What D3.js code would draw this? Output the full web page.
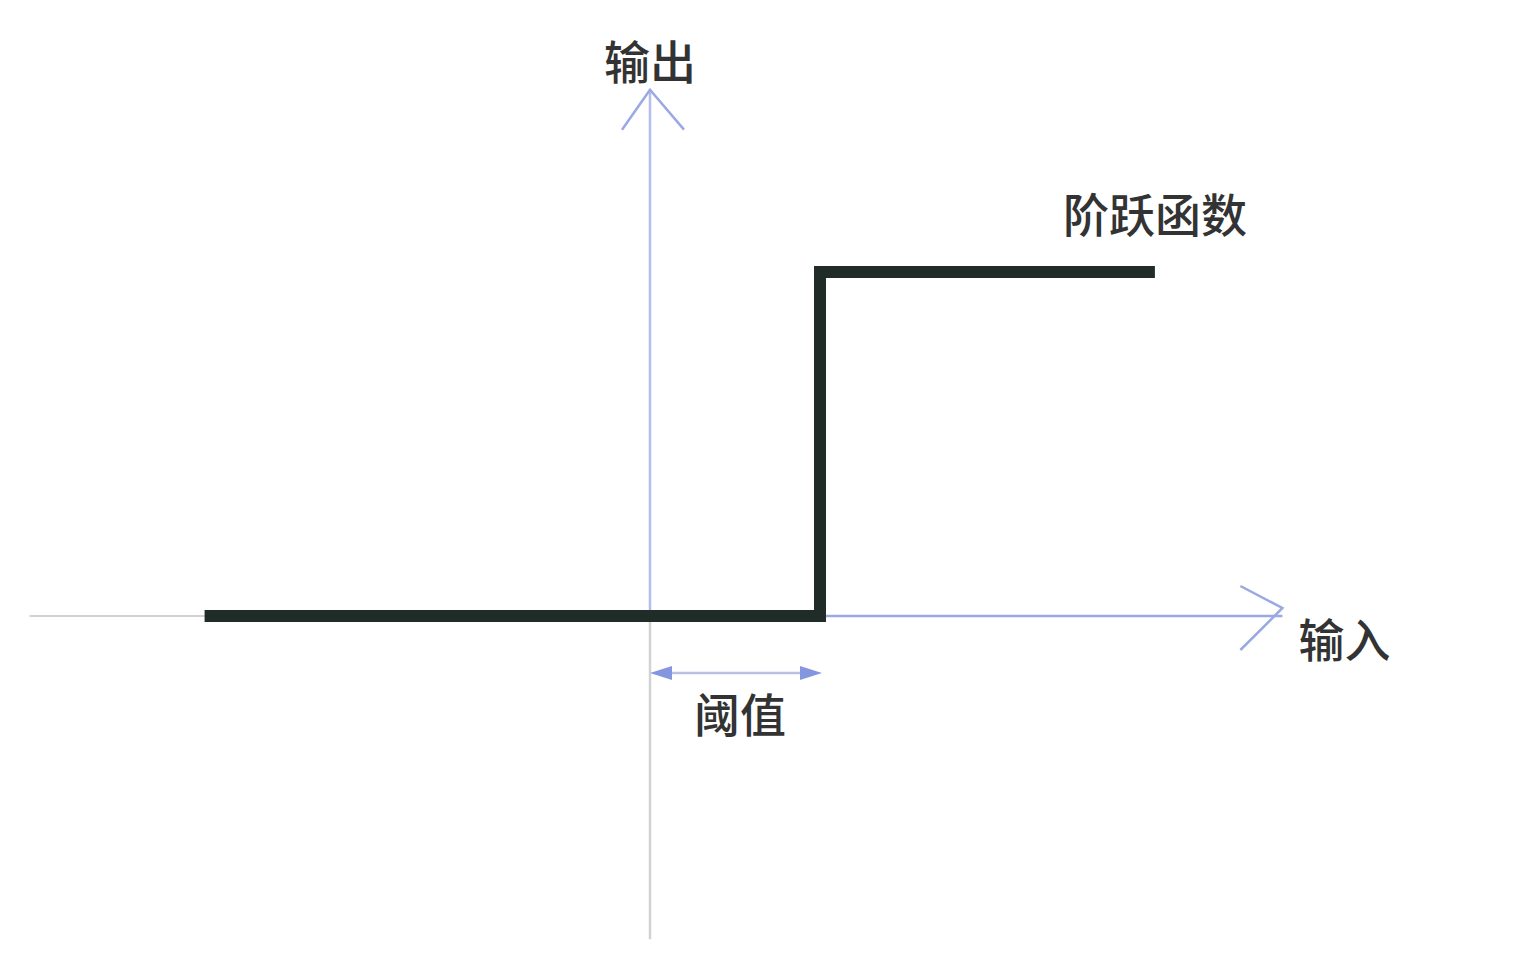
<!DOCTYPE html>
<html><head><meta charset="utf-8">
<script src="https://cdn.jsdelivr.net/npm/d3@7"></script>
<style>body{margin:0;background:#fff}svg{display:block}</style>
</head><body>
<svg id="c" width="1515" height="962"></svg>
<script>
// Data
const stepX = [-2.62, 1, 1, 2.97];
const stepY = [0, 0, 1, 1];
const threshold = 1;
const axisXRange = [-3.65, 3.72];
const axisYRange = [-0.94, 1.53];
const labels = [
  {text: "输出", x: 0, y: 1.53, dx: 0, dy: -11, anchor: "middle"},
  {text: "阶跃函数", x: 2.97, y: 1, dx: 0, dy: -40, anchor: "middle"},
  {text: "输入", x: 3.72, y: 0, dx: 62, dy: 41, anchor: "middle"},
  {text: "阈值", x: 0.53, y: 0, dx: 0, dy: 116, anchor: "middle"}
];

const svg = d3.select("#c");
const x = d3.scaleLinear().domain([0, 1]).range([650, 820]);
const y = d3.scaleLinear().domain([0, 1]).range([616, 272]);

const blue = "#9aa8e4", grey = "#d2d2d2";

// axes
svg.append("line").attr("x1", x(axisXRange[0])).attr("x2", x(0)).attr("y1", y(0)).attr("y2", y(0))
  .attr("stroke", grey).attr("stroke-width", 2);
svg.append("line").attr("x1", x(0)).attr("x2", x(axisXRange[1])).attr("y1", y(0)).attr("y2", y(0))
  .attr("stroke", blue).attr("stroke-width", 2.5);
svg.append("line").attr("x1", x(0)).attr("x2", x(0)).attr("y1", y(0)).attr("y2", y(axisYRange[0]))
  .attr("stroke", grey).attr("stroke-width", 2.5);
svg.append("line").attr("x1", x(0)).attr("x2", x(0)).attr("y1", y(0)).attr("y2", y(axisYRange[1]))
  .attr("stroke", "#b4bdee").attr("stroke-width", 2.5);

// open arrowheads
const xt = x(axisXRange[1]), yt = y(axisYRange[1]);
svg.append("path").attr("d", `M${xt-42},${y(0)-30} L${xt},${y(0)-8} L${xt-42},${y(0)+34}`)
  .attr("fill", "none").attr("stroke", blue).attr("stroke-width", 2.5);
svg.append("path").attr("d", `M${x(0)-28},${yt+40} L${x(0)},${yt} L${x(0)+34},${yt+40}`)
  .attr("fill", "none").attr("stroke", blue).attr("stroke-width", 2.5);

// step line
const line = d3.line().x((d, i) => x(stepX[i])).y((d, i) => y(stepY[i]));
svg.append("path").datum(stepX).attr("d", line)
  .attr("fill", "none").attr("stroke", "#1f2c28").attr("stroke-width", 12)
  .attr("stroke-linejoin", "miter").attr("stroke-linecap", "butt");

// threshold double arrow
const ty = y(0) + 57;
svg.append("line").attr("x1", x(0) + 10).attr("x2", x(threshold) - 10).attr("y1", ty).attr("y2", ty)
  .attr("stroke", "#b8c0e6").attr("stroke-width", 2.5);
svg.append("path").attr("d", `M${x(0)},${ty} L${x(0)+22},${ty-7} L${x(0)+22},${ty+7} Z`).attr("fill", "#8496e0");
svg.append("path").attr("d", `M${x(threshold)+2},${ty} L${x(threshold)-20},${ty-7} L${x(threshold)-20},${ty+7} Z`).attr("fill", "#8496e0");

// labels
svg.selectAll("text.lbl").data(labels).enter().append("text")
  .attr("x", d => x(d.x) + d.dx).attr("y", d => y(d.y) + d.dy)
  .attr("text-anchor", d => d.anchor)
  .attr("font-family", "'Noto Sans CJK SC', sans-serif")
  .attr("font-size", 46).attr("font-weight", 500).attr("fill", "#333")
  .text(d => d.text);
</script>
</body></html>
